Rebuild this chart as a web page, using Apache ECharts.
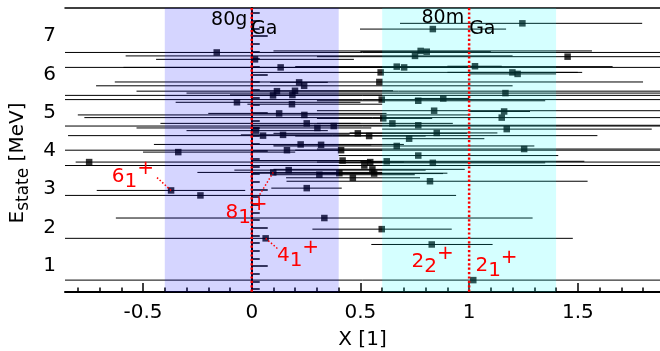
<!DOCTYPE html>
<html>
<head>
<meta charset="utf-8">
<script src="https://cdn.jsdelivr.net/npm/echarts@6/dist/echarts.min.js"></script>
<style>
html, body { margin: 0; padding: 0; background: #fff; }
#chart { width: 660px; height: 351px; }
</style>
</head>
<body>
<div id="chart"></div>
<script>
// level positions (X) and energies (MeV) with the x ranges of their bars
var pointX = [1.245, 0.833, -0.161, 0.777, 0.805, 0.751, 1.453, 0.015, 0.133, 0.667,
  0.701, 1.027, 0.593, 1.199, 1.223, 0.587, 0.218, 0.241, 0.116, 0.199,
  1.167, 0.098, 0.187, 0.598, 0.766, 0.881, -0.068, 0.185, 0.126, 0.242,
  0.839, 1.161, 1.150, 0.605, 0.253, 0.647, 0.302, 0.377, 0.766, 1.173,
  0.020, 0.052, 0.144, 0.488, 0.851, 0.540, 0.724, 0.225, 0.319, 0.667,
  1.253, -0.338, 0.162, 0.411, 0.766, -0.748, 0.418, 0.621, 0.833, 0.545,
  0.518, 0.555, 0.099, 0.170, 0.563, 0.311, 0.403, 0.465, 0.820, 0.253,
  -0.371, -0.236, 0.334, 0.598, 0.064, 0.828, 1.019];
var pointY = [7.33, 7.18, 6.57, 6.61, 6.59, 6.48, 6.46, 6.39, 6.18, 6.20,
  6.18, 6.21, 6.05, 6.05, 6.01, 5.80, 5.79, 5.70, 5.56, 5.57,
  5.51, 5.45, 5.46, 5.34, 5.31, 5.37, 5.27, 5.22, 4.98, 4.94,
  5.05, 5.03, 4.87, 4.85, 4.72, 4.72, 4.60, 4.65, 4.67, 4.57,
  4.53, 4.40, 4.42, 4.46, 4.47, 4.39, 4.32, 4.17, 4.16, 4.13,
  4.05, 3.97, 4.02, 4.02, 3.88, 3.71, 3.75, 3.73, 3.69, 3.71,
  3.62, 3.52, 3.44, 3.50, 3.41, 3.38, 3.42, 3.30, 3.21, 3.03,
  2.97, 2.84, 2.25, 1.96, 1.72, 1.56, 0.63];
var barLow = [0.682, 0.498, -1.0, 0.10, 0.50, -0.58, 0.30, -0.44, -1.0, 0.20,
  -0.59, 0.90, 0.00, 0.90, 1.00, -0.63, 0.085, -0.716, -0.53, 0.00,
  -0.30, -1.0, -0.10, -1.0, 0.30, 0.75, -0.35, -0.02, -0.20, -0.80,
  0.30, 1.00, -0.77, 0.30, -0.42, 0.30, -0.53, -1.0, 0.00, 0.60,
  -0.30, -0.845, -0.05, 0.10, 0.45, 0.20, 0.60, -0.45, 0.10, 0.10,
  0.30, -0.50, -1.0, 0.20, 0.40, -0.81, 0.00, 0.50, 0.40, 0.30,
  -1.0, 0.10, -0.25, -0.08, 0.30, 0.10, 0.00, 0.158, 0.16, 0.09,
  -0.713, -1.0, -0.625, 0.279, -1.0, 0.55, -1.0];
var barHigh = [1.796, 1.170, 2.0, 1.565, 1.10, 1.20, 2.0, 0.47, 2.0, 1.66,
  1.00, 1.15, 1.52, 1.50, 1.40, 1.80, 0.35, 1.20, 2.0, 0.65,
  2.0, 2.0, 0.60, 2.0, 1.35, 1.00, 0.50, 0.60, 0.62, 1.00,
  2.0, 1.28, 2.0, 0.83, 0.50, 0.925, 0.55, 2.0, 2.0, 1.84,
  0.35, 1.59, 0.45, 0.99, 1.13, 0.80, 1.07, 0.70, 0.55, 1.30,
  2.0, 0.20, 2.0, 0.60, 1.41, 2.0, 0.55, 1.53, 1.35, 0.70,
  2.0, 0.98, 0.60, 0.80, 0.88, 0.75, 0.90, 0.774, 1.545, 0.414,
  -0.03, 0.94, 1.292, 0.92, 1.477, 1.108, 2.0];

var bandLow = [-0.4, 0.6];
var bandHigh = [0.4, 1.4];
var refLines = [0, 1];

var isoText = ['80g', '80m'];
var isoX = [-0.187, 0.781];
var isoY = [7.416, 7.467];
var elemText = ['Ga', 'Ga'];
var elemX = [-0.003, 1.0];
var elemY = [7.18, 7.19];

var stateMain = ['6', '8', '4', '2', '2'];
var stateSub = ['1', '1', '1', '2', '1'];
var stateX = [-0.644, -0.121, 0.116, 0.735, 1.029];
var stateY = [3.334, 2.397, 1.266, 1.112, 1.005];
var leaderFrom = [[-0.371, 2.97], [0.099, 3.44], [0.064, 1.72]];
var leaderTo = [[-0.437, 3.31], [0.029, 2.79], [0.122, 1.436]];

var xTicks = [-0.5, 0, 0.5, 1, 1.5];
var yTicks = [1, 2, 3, 4, 5, 6, 7];
var xMin = -0.859, xMax = 1.878, yMin = 0.32, yMax = 7.73;

var FONT = 'DejaVu Sans';
var chart = echarts.init(document.getElementById('chart'));

var option = {
  animation: false,
  backgroundColor: '#fff',
  grid: { left: 65, right: 0, top: 8, bottom: 59, outerBoundsMode: 'none', containLabel: false },
  xAxis: [{
    type: 'value', min: xMin, max: xMax,
    splitLine: { show: false },
    axisLine: { lineStyle: { color: '#000', width: 2 } },
    axisTick: { inside: true, length: 9, customValues: xTicks, lineStyle: { color: '#000', width: 1.5 } },
    minorTick: { show: true, splitNumber: 5, length: 4.5, lineStyle: { color: '#000', width: 1.5 } },
    axisLabel: { customValues: xTicks, color: '#000', fontFamily: FONT, fontSize: 20, margin: 11 },
    name: 'X [1]', nameLocation: 'middle', nameGap: 38,
    nameTextStyle: { color: '#000', fontFamily: FONT, fontSize: 20 }
  }, {
    type: 'value', position: 'top', min: xMin, max: xMax,
    splitLine: { show: false }, axisTick: { show: false }, axisLabel: { show: false },
    axisLine: { lineStyle: { color: '#000', width: 1.5 } }
  }],
  yAxis: {
    type: 'value', min: yMin, max: yMax, splitNumber: 7,
    splitLine: { show: false },
    axisLine: { lineStyle: { color: '#000', width: 2 } },
    axisTick: { inside: true, length: 16, customValues: yTicks, lineStyle: { color: '#000', width: 1.5 } },
    minorTick: { show: true, splitNumber: 5, length: 8, lineStyle: { color: '#000', width: 1.5 } },
    axisLabel: { customValues: yTicks, color: '#000', fontFamily: FONT, fontSize: 20, margin: 9 },
    name: '{e|E}{s|state}{e| [MeV]}', nameLocation: 'middle', nameGap: 31, nameRotate: 90,
    nameTextStyle: {
      color: '#000', fontFamily: FONT, padding: [0, 26, 0, 0],
      rich: {
        e: { fontSize: 20, fontFamily: FONT, color: '#000', lineHeight: 30 },
        s: { fontSize: 17, fontFamily: FONT, color: '#000', lineHeight: 17, verticalAlign: 'bottom' }
      }
    }
  },
  series: [
    {
      type: 'custom', z: 2, clip: true,
      encode: { x: 0, y: 1 },
      data: pointX.map(function (x, i) { return [x, pointY[i], barLow[i], barHigh[i]]; }),
      renderItem: function (params, api) {
        var y = api.value(1);
        var p0 = api.coord([Math.max(api.value(2), xMin), y]);
        var p1 = api.coord([Math.min(api.value(3), xMax), y]);
        return {
          type: 'line',
          shape: { x1: p0[0], y1: p0[1], x2: p1[0], y2: p1[1] },
          style: { stroke: '#000', lineWidth: 1 }
        };
      }
    },
    {
      type: 'scatter', z: 3,
      symbol: 'rect', symbolSize: 6.5,
      itemStyle: { color: '#000' },
      data: pointX.map(function (x, i) { return [x, pointY[i]]; })
    },
    {
      type: 'custom', z: 5,
      encode: { x: 0 },
      data: bandLow.map(function (x, i) { return [x, bandHigh[i]]; }),
      renderItem: function (params, api) {
        var a = api.coord([api.value(0), yMax]);
        var b = api.coord([api.value(1), yMin]);
        var fill = params.dataIndex === 0 ? 'rgba(0,0,255,0.165)' : 'rgba(0,255,255,0.165)';
        return {
          type: 'rect',
          shape: { x: a[0], y: a[1], width: b[0] - a[0], height: b[1] - a[1] },
          style: { fill: fill }
        };
      }
    },
    {
      type: 'custom', z: 6,
      encode: { x: 0 },
      data: refLines.map(function (x) { return [x]; }),
      renderItem: function (params, api) {
        var a = api.coord([api.value(0), yMax]);
        var b = api.coord([api.value(0), yMin]);
        return {
          type: 'line',
          shape: { x1: a[0], y1: a[1], x2: b[0], y2: b[1] },
          style: { stroke: '#ff0000', lineWidth: 2.5, lineDash: [2.2, 2.2] }
        };
      }
    },
    {
      type: 'custom', z: 7,
      encode: { x: 0, y: 1 },
      data: leaderFrom.map(function (p, i) { return [p[0], p[1], leaderTo[i][0], leaderTo[i][1]]; }),
      renderItem: function (params, api) {
        var a = api.coord([api.value(0), api.value(1)]);
        var b = api.coord([api.value(2), api.value(3)]);
        return {
          type: 'line',
          shape: { x1: a[0], y1: a[1], x2: b[0], y2: b[1] },
          style: { stroke: '#ff0000', lineWidth: 1.5, lineDash: [1.5, 2] }
        };
      }
    },
    {
      type: 'custom', z: 8,
      encode: { x: 0, y: 1 },
      data: stateX.map(function (x, i) { return [x, stateY[i]]; }),
      renderItem: function (params, api) {
        var i = params.dataIndex;
        var p = api.coord([api.value(0), api.value(1)]);
        var font = '20px "' + FONT + '"';
        var w = 12.7;
        return {
          type: 'group',
          children: [
            { type: 'text', x: p[0], y: p[1], style: { text: stateMain[i], font: font, fill: '#ff0000', align: 'left', verticalAlign: 'middle' } },
            { type: 'text', x: p[0] + w, y: p[1] + 5, style: { text: stateSub[i], font: font, fill: '#ff0000', align: 'left', verticalAlign: 'middle' } },
            { type: 'text', x: p[0] + 2 * w, y: p[1] - 7.5, style: { text: '+', font: font, fill: '#ff0000', align: 'left', verticalAlign: 'middle' } }
          ]
        };
      }
    },
    {
      type: 'custom', z: 8,
      encode: { x: 0, y: 1 },
      data: isoX.map(function (x, i) { return [x, isoY[i], elemX[i], elemY[i]]; }),
      renderItem: function (params, api) {
        var i = params.dataIndex;
        var a = api.coord([api.value(0), api.value(1)]);
        var b = api.coord([api.value(2), api.value(3)]);
        var font = '19px "' + FONT + '"';
        return {
          type: 'group',
          children: [
            { type: 'text', x: a[0], y: a[1], style: { text: isoText[i], font: font, fill: '#000', align: 'left', verticalAlign: 'middle' } },
            { type: 'text', x: b[0], y: b[1], style: { text: elemText[i], font: font, fill: '#000', align: 'left', verticalAlign: 'middle' } }
          ]
        };
      }
    }
  ]
};

chart.setOption(option);
</script>
</body>
</html>
